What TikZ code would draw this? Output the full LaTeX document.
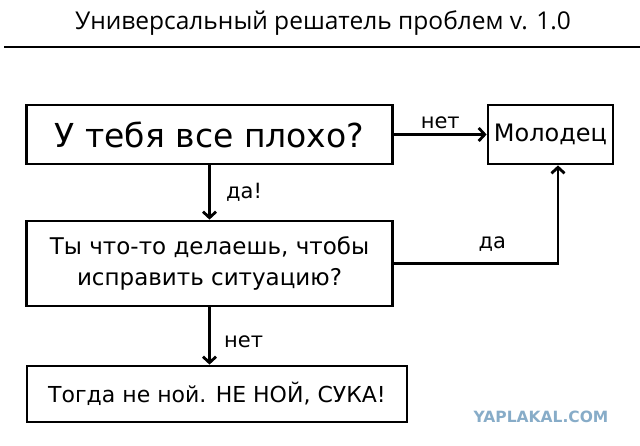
\documentclass[tikz,border=0pt]{standalone}
\usepackage{fontspec}
\setmainfont{DejaVu Sans}
\newfontfamily\titlefont{Open Sans}
\usetikzlibrary{arrows.meta}
\tikzset{
  box/.style={draw,line width=2.8pt,inner sep=0pt,align=center},
  flow/.style={line width=2.8pt,-{Straight Barb[length=6pt,width=13pt,line width=2.8pt]}},
  lbl/.style={font=\fontsize{21}{24}\selectfont}
}
\begin{document}
\begin{tikzpicture}[x=1pt,y=-1pt]
\useasboundingbox (0,0) rectangle (640,446);
\node[font=\titlefont\fontsize{24.5}{28}\selectfont] (title) at (323,23) {Универсальный решатель проблем v. 1.0};
\draw[line width=2.2pt] (4,47) -- (640,47);
\node[box,minimum width=366,minimum height=59,font=\fontsize{33}{38}\selectfont] (plokho) at (209.5,134.5) {У тебя все плохо?};
\node[box,minimum width=125,minimum height=59,font=\fontsize{24}{28}\selectfont] (molodec) at (550.5,134.5) {Молодец};
\node[box,minimum width=366,minimum height=85,font=\fontsize{23}{31}\selectfont] (delaesh) at (209.5,263.5) {Ты что-то делаешь, чтобы\\исправить ситуацию?};
\node[box,minimum width=380,minimum height=56,font=\fontsize{22}{26}\selectfont] (noi) at (217,394) {Тогда не ной. НЕ НОЙ, СУКА!};
\draw[flow] (plokho) -- (molodec) node[lbl,midway,above=1pt] {нет};
\draw[flow] (plokho) -- (delaesh) node[lbl,midway,right=12pt] {да!};
\draw[flow] (delaesh.east) -| ([xshift=7.5]molodec.south) node[lbl,pos=0.3,above=7pt] {да};
\draw[flow] (delaesh.south) -- (delaesh.south |- noi.north) node[lbl,pos=0.6,right=10pt] {нет};
\node[font=\bfseries\fontsize{15.5}{18}\selectfont,text={rgb,255:red,135;green,172;blue,200}] (mark) at (541,417) {YAPLAKAL.COM};
\end{tikzpicture}
\end{document}
